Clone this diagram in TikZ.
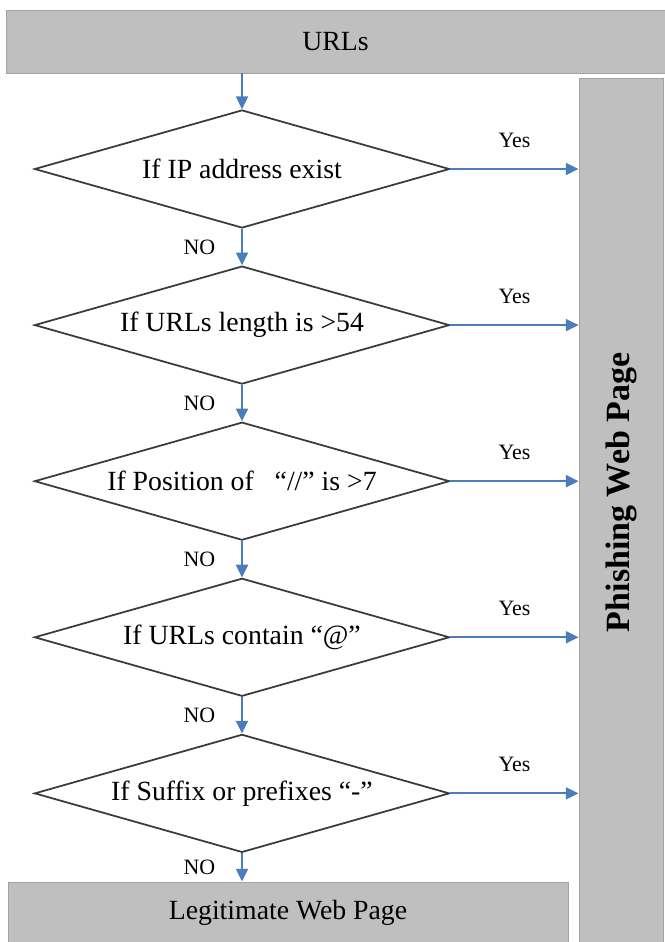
\documentclass[tikz,border=0pt]{standalone}
\usepackage{fontspec}
\setmainfont{Liberation Serif}
\usepackage{tikz}
\usetikzlibrary{shapes.geometric, arrows.meta, positioning, calc}
\definecolor{boxgray}{HTML}{BFBFBF}
\definecolor{boxedge}{HTML}{A3A3A3}
\definecolor{flowblue}{HTML}{4A7EBB}
\definecolor{edgedark}{HTML}{3A3A3A}
\tikzstyle{termbox} = [draw=boxedge, fill=boxgray, rectangle, line width=0.8pt, text centered, inner sep=0pt, font=\fontsize{23.7}{26}\selectfont]
\tikzstyle{decision} = [draw=edgedark, diamond, aspect=3.5, line width=1.5pt, minimum width=12.45cm, minimum height=3.54cm, inner sep=0pt, text centered, font=\fontsize{23.7}{26}\selectfont]
\tikzstyle{arrw} = [line width=1.6pt, -{Triangle[length=3.8mm, width=3.6mm]}, color=flowblue]
\tikzstyle{lbl} = [font=\fontsize{18.7}{20}\selectfont, text=black]

\begin{document}
\begin{tikzpicture}
    \useasboundingbox (0,0) rectangle (19.95,-28.26);

    % Input and outcomes
    \node (urls) [termbox, minimum width=19.77cm, minimum height=1.89cm] at (10.065,-1.245) {URLs};
    \node (phish) [termbox, minimum width=2.52cm, minimum height=26.46cm, font=\fontsize{29}{32}\selectfont\bfseries] at (18.63,-15.57) {\rotatebox{90}{\hspace*{1.6cm}Phishing Web Page}};
    \node (legit) [termbox, minimum width=16.8cm, minimum height=1.86cm] at (8.64,-27.39) {Legitimate Web Page};

    % Checks
    \node (ipchk) [decision] at (7.26,-5.07) {If IP address exist};
    \node (lenchk) [decision, below=1.09cm of ipchk] {If URLs length is >54};
    \node (poschk) [decision, below=1.09cm of lenchk] {If Position of \ \ “//” is >7};
    \node (atchk) [decision, below=1.09cm of poschk] {If URLs contain “@”};
    \node (dashchk) [decision, below=1.09cm of atchk] {If Suffix or prefixes “-”};

    % NO branch
    \draw [arrw] (urls.south -| ipchk.north) -- (ipchk.north);
    \draw [arrw] (ipchk.south) -- node[lbl, left=0.66cm] {NO} (lenchk.north);
    \draw [arrw] (lenchk.south) -- node[lbl, left=0.66cm] {NO} (poschk.north);
    \draw [arrw] (poschk.south) -- node[lbl, left=0.66cm] {NO} (atchk.north);
    \draw [arrw] (atchk.south) -- node[lbl, left=0.66cm] {NO} (dashchk.north);
    \draw [arrw] (dashchk.south) -- node[lbl, left=0.66cm] {NO} (dashchk.south |- legit.north);

    % Yes branch
    \draw [arrw] (ipchk.east) -- node[lbl, above=0.5cm] {Yes} (ipchk.east -| phish.west);
    \draw [arrw] (lenchk.east) -- node[lbl, above=0.5cm] {Yes} (lenchk.east -| phish.west);
    \draw [arrw] (poschk.east) -- node[lbl, above=0.5cm] {Yes} (poschk.east -| phish.west);
    \draw [arrw] (atchk.east) -- node[lbl, above=0.5cm] {Yes} (atchk.east -| phish.west);
    \draw [arrw] (dashchk.east) -- node[lbl, above=0.5cm] {Yes} (dashchk.east -| phish.west);
\end{tikzpicture}
\end{document}
